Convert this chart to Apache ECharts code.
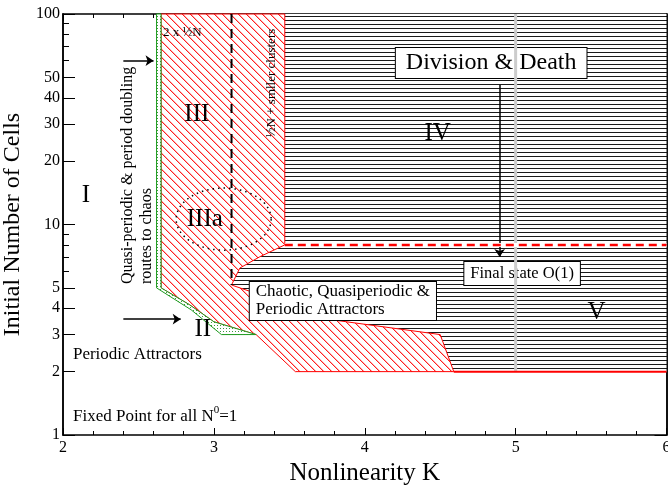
<!DOCTYPE html>
<html>
<head>
<meta charset="utf-8">
<script src="https://cdn.jsdelivr.net/npm/echarts@6/dist/echarts.min.js"></script>
<style>html,body{margin:0;padding:0;background:#fff}#main{width:668px;height:485px}</style>
</head>
<body>
<div id="main"></div>
<script>
// ticks of the log axis
var yMajorTicks = [1, 2, 3, 4, 5, 10, 20, 30, 40, 50, 100];
var yMinorTicks = [6, 7, 8, 9, 60, 70, 80, 90];

// phase regions, points as [K, N]
var regionIV = [[3.47, 100], [6, 100], [6, 2], [4.59, 2], [4.5, 3.0], [3.79, 3.52], [3.117, 5.16], [3.172, 6.21], [3.305, 7.03], [3.47, 8]];
var regionIII = [[2.65, 100], [3.47, 100], [3.47, 8], [3.305, 7.03], [3.172, 6.21], [3.117, 5.16], [3.79, 3.52], [4.5, 3.0], [4.59, 2.0], [3.54, 2.0], [3.28, 3.0], [3.0, 3.45], [2.84, 4.15], [2.65, 5.0]];
var regionII = [[2.62, 100], [2.62, 5.0], [2.85, 3.93], [3.05, 3.0], [3.28, 3.0], [3.0, 3.45], [2.84, 4.15], [2.65, 5.0], [2.65, 100]];

// boundary lines
var halfNLine = [[3.117, 100], [3.117, 5.16]];
var finalStateLine = [[3.47, 8], [6, 8]];
var bottomLine = [[4.59, 2], [6, 2]];
var k5Line = [[5, 100], [5, 2]];

// arrows [from, to]
var arrows = [
	[[2.4, 60], [2.6, 60]],
	[[2.4, 3.55], [2.78, 3.55]],
	[[4.894, 46], [4.894, 7.0]]
];

// region IIIa ellipse: K range, N range
var ellipseK = [2.75, 3.38];
var ellipseN = [7.55, 14.9];

// region names and where they sit
var romanNames = ['I', 'III', 'IIIa', 'IV', 'V', 'II'];
var romanAt = [[2.152, 13.7], [2.887, 33.5], [2.94, 10.6], [4.483, 27.2], [5.536, 3.84], [2.927, 3.19]];

function makePattern(type) {
	var c = document.createElement('canvas');
	var ctx;
	if (type == 'hatch') {
		c.width = 8; c.height = 8;
		ctx = c.getContext('2d');
		ctx.fillStyle = '#fff'; ctx.fillRect(0, 0, 8, 8);
		for (var i = 0; i < 8; i++) {
			ctx.fillStyle = '#ffb0b0'; ctx.fillRect((i + 1) % 8, i, 1, 1);
			ctx.fillStyle = '#ff2020'; ctx.fillRect(i, i, 1, 1);
		}
	} else if (type == 'lines') {
		c.width = 4; c.height = 4;
		ctx = c.getContext('2d');
		ctx.fillStyle = '#fff'; ctx.fillRect(0, 0, 4, 4);
		ctx.fillStyle = '#1a1a1a'; ctx.fillRect(0, 0, 4, 1);
	} else {
		c.width = 3; c.height = 3;
		ctx = c.getContext('2d');
		ctx.fillStyle = '#fff'; ctx.fillRect(0, 0, 3, 3);
		ctx.fillStyle = '#3c9a3c'; ctx.fillRect(1, 1, 1, 1);
	}
	return {type: 'pattern', image: c, repeat: 'repeat'};
}

var regionList = [regionIV, regionIII, regionII];
var regionFill = [makePattern('lines'), makePattern('hatch'), makePattern('dots')];
var regionStroke = [null, '#ff0000', '#1e9a1e'];

var serif = 'Liberation Serif';
var myChart = echarts.init(document.getElementById('main'));

function lineSeries(data, color, width, type) {
	return {
		type: 'line', data: data, showSymbol: false, symbol: 'none', silent: true,
		lineStyle: {color: color, width: width, type: type || 'solid'}
	};
}

function xAx(pos, show) {
	return {
		type: 'value', min: 2, max: 6, interval: 1, position: pos,
		name: show ? 'Nonlinearity K' : '', nameLocation: 'middle', nameGap: 20,
		nameTextStyle: {fontFamily: serif, fontSize: 25, color: '#000'},
		axisLine: {lineStyle: {color: '#000', width: 1.5}},
		axisTick: {inside: true, length: 7, lineStyle: {color: '#000', width: 1}},
		minorTick: {show: true, splitNumber: 5, length: 4, lineStyle: {color: '#000', width: 1}},
		axisLabel: {show: show, fontFamily: serif, fontSize: 16, color: '#000', margin: 5},
		splitLine: {show: false}
	};
}

function yAx(pos, ticks, len, label) {
	return {
		type: 'log', logBase: 10, min: 1, max: 100, position: pos,
		name: label ? 'Initial Number of Cells' : '', nameLocation: 'middle', nameGap: 33,
		nameTextStyle: {fontFamily: serif, fontSize: 24, color: '#000'},
		axisLine: {lineStyle: {color: '#000', width: 1.5}},
		axisTick: {inside: true, length: len, customValues: ticks, lineStyle: {color: '#000', width: 1}},
		minorTick: {show: false},
		axisLabel: {show: label, customValues: ticks, fontFamily: serif, fontSize: 16, color: '#000', margin: 3},
		splitLine: {show: false}
	};
}

option = {
	animation: false,
	grid: {left: 63, right: 1.5, top: 14, bottom: 50, outerBoundsMode: 'none', containLabel: false},
	xAxis: [xAx('bottom', true), xAx('top', false)],
	yAxis: [
		yAx('left', yMajorTicks, 12, true),
		yAx('left', yMinorTicks, 6, false),
		yAx('right', yMajorTicks, 12, false),
		yAx('right', yMinorTicks, 6, false)
	],
	series: [
		{
			type: 'custom', silent: true,
			data: [0, 1, 2],
			renderItem: function (params, api) {
				var pts = regionList[params.dataIndex].map(function (p) { return api.coord(p); });
				return {
					type: 'polygon', shape: {points: pts},
					style: {fill: regionFill[params.dataIndex], stroke: regionStroke[params.dataIndex], lineWidth: 1}
				};
			}
		},
		lineSeries(k5Line, '#cccccc', 3),
		lineSeries(finalStateLine, '#ffffff', 4),
		lineSeries(finalStateLine, '#ff0000', 2.5, [8, 5]),
		lineSeries(bottomLine, '#ff0000', 2),
		lineSeries(halfNLine, '#000000', 2, [9, 6]),
		{
			// dotted ellipse round IIIa
			type: 'custom', silent: true, data: [0],
			renderItem: function (params, api) {
				var a = api.coord([ellipseK[0], ellipseN[0]]);
				var b = api.coord([ellipseK[1], ellipseN[1]]);
				var cx = (a[0] + b[0]) / 2, cy = (a[1] + b[1]) / 2;
				var rx = Math.abs(b[0] - a[0]) / 2, ry = Math.abs(b[1] - a[1]) / 2;
				var pts = [];
				for (var i = 0; i < 72; i++) {
					var t = i / 72 * Math.PI * 2;
					pts.push([cx + rx * Math.cos(t), cy + ry * Math.sin(t)]);
				}
				return {
					type: 'polygon', shape: {points: pts},
					style: {fill: null, stroke: '#000', lineWidth: 1.5, lineDash: [1.5, 4]}
				};
			}
		},
		{
			type: 'lines', coordinateSystem: 'cartesian2d', silent: true,
			symbol: ['none', 'arrow'], symbolSize: 8,
			lineStyle: {color: '#000', width: 1.5, opacity: 1},
			data: arrows.map(function (a) { return {coords: a}; })
		},
		{
			// region numbers
			type: 'custom', silent: true, data: romanAt,
			renderItem: function (params, api) {
				var p = api.coord(romanAt[params.dataIndex]);
				return {
					type: 'text', x: p[0], y: p[1],
					style: {text: romanNames[params.dataIndex], font: '25px ' + serif, fill: '#000', align: 'center', verticalAlign: 'middle'}
				};
			}
		},
		{
			// notes
			type: 'custom', silent: true, data: [0],
			renderItem: function (params, api) {
				function at(k, n) { return api.coord([k, n]); }
				var p1 = at(2.662, 81.2), p2 = at(3.384, 26), p3 = at(2.493, 5.21), p4 = at(2.066, 2.4),
					p5 = at(2.066, 1.22), p6 = at(4.838, 58.5), p7 = at(5.043, 5.85), p8 = at(3.238, 5.33);
				return {
					type: 'group',
					children: [
						{type: 'text', x: p1[0], y: p1[1], style: {text: '2 x ½N', font: '13px ' + serif, fill: '#000', align: 'left', verticalAlign: 'middle'}},
						{type: 'text', x: p2[0], y: p2[1], rotation: Math.PI / 2, style: {text: '½N + smller clusters', font: '13px ' + serif, fill: '#000', align: 'left', verticalAlign: 'middle'}},
						{type: 'text', x: p3[0], y: p3[1], rotation: Math.PI / 2, style: {text: 'Quasi-periodic & period doubling\nroutes to chaos', font: '16px ' + serif, lineHeight: 19, fill: '#000', align: 'left', verticalAlign: 'middle'}},
						{type: 'text', x: p4[0], y: p4[1], style: {text: 'Periodic Attractors', font: '17px ' + serif, fill: '#000', align: 'left', verticalAlign: 'middle'}},
						{type: 'text', x: p5[0], y: p5[1], style: {
							text: '{a|Fixed Point for all N}{s|0}{a|=1}', fill: '#000', align: 'left', verticalAlign: 'middle',
							rich: {a: {font: '17px ' + serif, fill: '#000'}, s: {font: '11px ' + serif, fill: '#000', padding: [0, 0, 13, 0]}}
						}},
						{type: 'text', x: p6[0], y: p6[1], style: {text: 'Division & Death', font: '24px ' + serif, fill: '#000', align: 'center', verticalAlign: 'middle',
							backgroundColor: '#fff', borderColor: '#000', borderWidth: 1, padding: [3, 10]}},
						{type: 'text', x: p7[0], y: p7[1], style: {text: 'Final state O(1)', font: '16.5px ' + serif, fill: '#000', align: 'center', verticalAlign: 'middle',
							backgroundColor: '#fff', borderColor: '#000', borderWidth: 1, padding: [3, 6]}},
						{type: 'text', x: p8[0], y: p8[1], style: {text: 'Chaotic, Quasiperiodic &\nPeriodic Attractors', font: '17px ' + serif, lineHeight: 18, fill: '#000', align: 'left', verticalAlign: 'top',
							backgroundColor: '#fff', borderColor: '#000', borderWidth: 1, padding: [1, 6]}}
					]
				};
			}
		}
	]
};
myChart.setOption(option);
</script>
</body>
</html>
